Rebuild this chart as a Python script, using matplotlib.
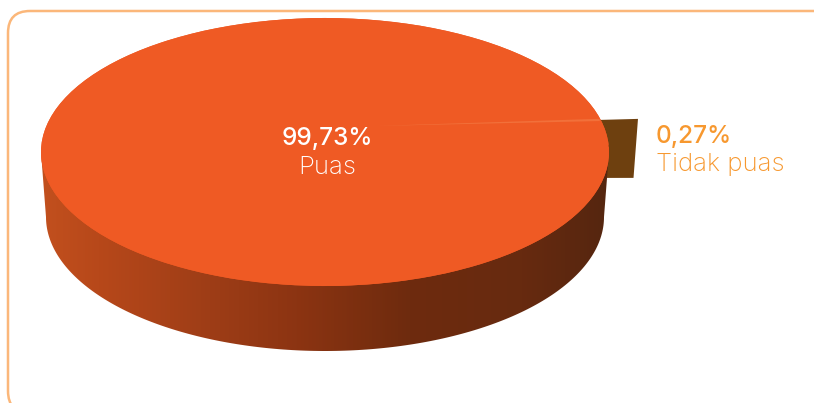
import numpy as np
import matplotlib
matplotlib.use("Agg")
import matplotlib.pyplot as plt
from matplotlib.patches import Wedge, Ellipse, FancyBboxPatch, Polygon
from matplotlib.transforms import Affine2D
from matplotlib.colors import LinearSegmentedColormap

labels = ["Puas", "Tidak puas"]
values = [99.73, 0.27]
value_text = ["99,73%", "0,27%"]

W, H = 814, 403
fig = plt.figure(figsize=(W / 100, H / 100), dpi=100)
ax = fig.add_axes([0, 0, 1, 1])
ax.axis("off")

TOP = "#EF5A24"
CUT = "#6E400F"
ORANGE = "#F7982F"
FRAME = "#FBB77A"

cx, cy, a, b = 325, 152, 284, 134
cy2, a2 = 217, 279

# frame
ax.add_patch(FancyBboxPatch((8, 11), 900, 402, boxstyle="round,pad=0,rounding_size=22",
                            fc="white", ec=FRAME, lw=1.8, zorder=0))

# exploded slice face, sized from the share
sweep = 360 * values[1] / 100
mid = 2.6
ax_x, ax_y, ax_a = 375, 126, 225
th = np.deg2rad(mid)
r_out = 1.17
pts = []
for r, d, s in [(0.98, 0, 1), (r_out, 0, 1), (r_out, 59, 0.983), (1.0, 58, 1.0)]:
    pts.append((ax_x + ax_a * r * s * np.cos(th), ax_y - b * r * np.sin(th) + d))
ax.add_patch(Polygon(pts, closed=True, fc=CUT, ec="none", zorder=1))

# side wall with a horizontal gradient
cmap = LinearSegmentedColormap.from_list("side", [
    (0.00, "#C2501E"), (0.10, "#B7481A"), (0.28, "#A03E17"), (0.45, "#8C3412"),
    (0.65, "#6E2B0E"), (0.85, "#672A10"), (1.00, "#55260F")])
im = ax.imshow(np.linspace(0, 1, 256)[None, :], cmap=cmap, aspect="auto",
               extent=(cx - a, cx + a, cy2 + b + 2, cy - 2), zorder=2)
t = np.linspace(0, np.pi, 200)
wall = np.r_[[[cx - a, cy], [cx + a, cy]],
             np.c_[cx + a2 * np.cos(t), cy2 + b * np.sin(t)]]
clip = Polygon(wall, closed=True, transform=ax.transData, fc="none", ec="none")
ax.add_patch(clip)
im.set_clip_path(clip)

# top face
ax.add_patch(Ellipse((cx, cy), 2 * a, 2 * b, fc=TOP, ec="none", zorder=3))
flat = Affine2D().scale(a, -b).translate(cx, cy) + ax.transData
ax.add_patch(Wedge((0, 0), 1, mid + sweep / 2, mid + sweep / 2 + 360 * values[0] / 100,
                   fc=TOP, ec="none", transform=flat, zorder=4))
slice_tf = Affine2D().scale(ax_a, -b).translate(ax_x, ax_y) + ax.transData
ax.add_patch(Wedge((0, 0), 1, mid - sweep / 2, mid + sweep / 2,
                   fc="#F2703A", ec="none", transform=slice_tf, zorder=5))

ax.set_xlim(0, W)
ax.set_ylim(H, 0)

font = ["Inter", "DejaVu Sans"]
ax.text(327, 139, value_text[0], color="white", fontsize=17.5, fontweight="medium", family=font,
        ha="center", va="center", zorder=6)
ax.text(327, 167, labels[0], color="white", fontsize=18.5, fontweight="light", family=font,
        ha="center", va="center", zorder=6)
ax.text(656, 136, value_text[1], color=ORANGE, fontsize=17.5, fontweight="medium", family=font,
        ha="left", va="center", zorder=6)
ax.text(656, 165, labels[1], color=ORANGE, fontsize=18.5, fontweight="light", family=font,
        ha="left", va="center", zorder=6)

fig.savefig("out.png", dpi=100)
